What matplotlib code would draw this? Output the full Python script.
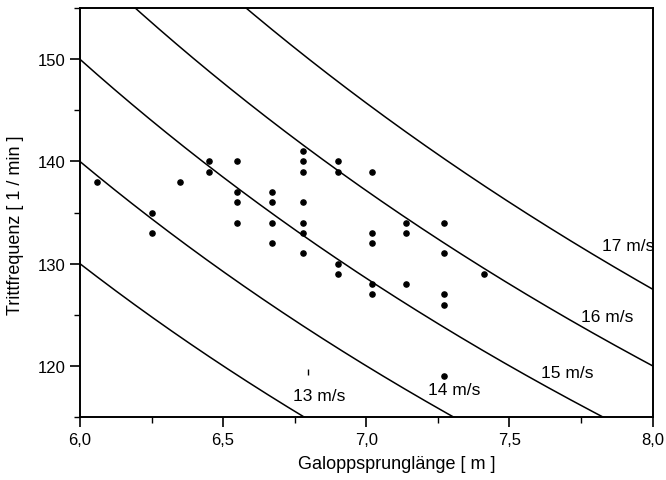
import numpy as np
import matplotlib.pyplot as plt
from matplotlib.ticker import MultipleLocator, FuncFormatter

plt.rcParams['font.family'] = ['Liberation Sans', 'DejaVu Sans']

# measured points: stride length [m], stride frequency [1/min]
stride = [6.06, 6.25, 6.25, 6.35, 6.45, 6.45, 6.55, 6.55, 6.55, 6.55,
          6.67, 6.67, 6.67, 6.67, 6.78, 6.78, 6.78, 6.78, 6.78, 6.78, 6.78,
          6.90, 6.90, 6.90, 6.90, 7.02, 7.02, 7.02, 7.02, 7.02,
          7.14, 7.14, 7.14, 7.27, 7.27, 7.27, 7.27, 7.27, 7.41]
freq = [138, 135, 133, 138, 140, 139, 140, 137, 136, 134,
        137, 136, 134, 132, 141, 140, 139, 136, 134, 133, 131,
        140, 139, 130, 129, 139, 133, 132, 128, 127,
        134, 133, 128, 134, 131, 127, 126, 119, 129]

# speed isolines  f = v * 60 / L
speeds = [13, 14, 15, 16, 17]
label_x = [6.745, 7.216, 7.611, 7.751, 7.822]
label_y = [117.1, 117.7, 119.4, 124.8, 131.8]

fig = plt.figure(figsize=(6.66, 4.81), dpi=100)
ax = fig.add_axes([0.120, 0.131, 0.860, 0.850])

L = np.linspace(6.0, 8.0, 400)
for v in speeds:
    ax.plot(L, v * 60 / L, color='black', lw=1.1)

ax.scatter(stride, freq, s=14, color='black', zorder=3)
# small stray mark near 6.8 / 119.5
ax.plot([6.797], [119.4], marker='|', ms=4, color='black', mew=1)

for v, tx, ty in zip(speeds, label_x, label_y):
    ax.text(tx, ty, str(v) + ' m/s', fontsize=12.5, ha='left', va='center')

ax.set_xlim(6.0, 8.0)
ax.set_ylim(115, 155)
ax.xaxis.set_major_locator(MultipleLocator(0.5))
ax.xaxis.set_minor_locator(MultipleLocator(0.25))
ax.yaxis.set_major_locator(MultipleLocator(10))
ax.yaxis.set_minor_locator(MultipleLocator(5))
ax.xaxis.set_major_formatter(FuncFormatter(lambda x, p: ('%.1f' % x).replace('.', ',')))
ax.tick_params(which='major', direction='out', length=7, width=1.2, labelsize=12)
ax.tick_params(which='minor', direction='out', length=4, width=1.0)

for s in ax.spines.values():
    s.set_linewidth(1.4)

ax.set_xlabel('Galoppsprunglänge [ m ]', fontsize=13)
ax.set_ylabel('Trittfrequenz [ 1 / min ]', fontsize=13)
ax.xaxis.set_label_coords(0.553, -0.092)
ax.yaxis.set_label_coords(-0.097, 0.472)

plt.savefig('out.png', dpi=100)
